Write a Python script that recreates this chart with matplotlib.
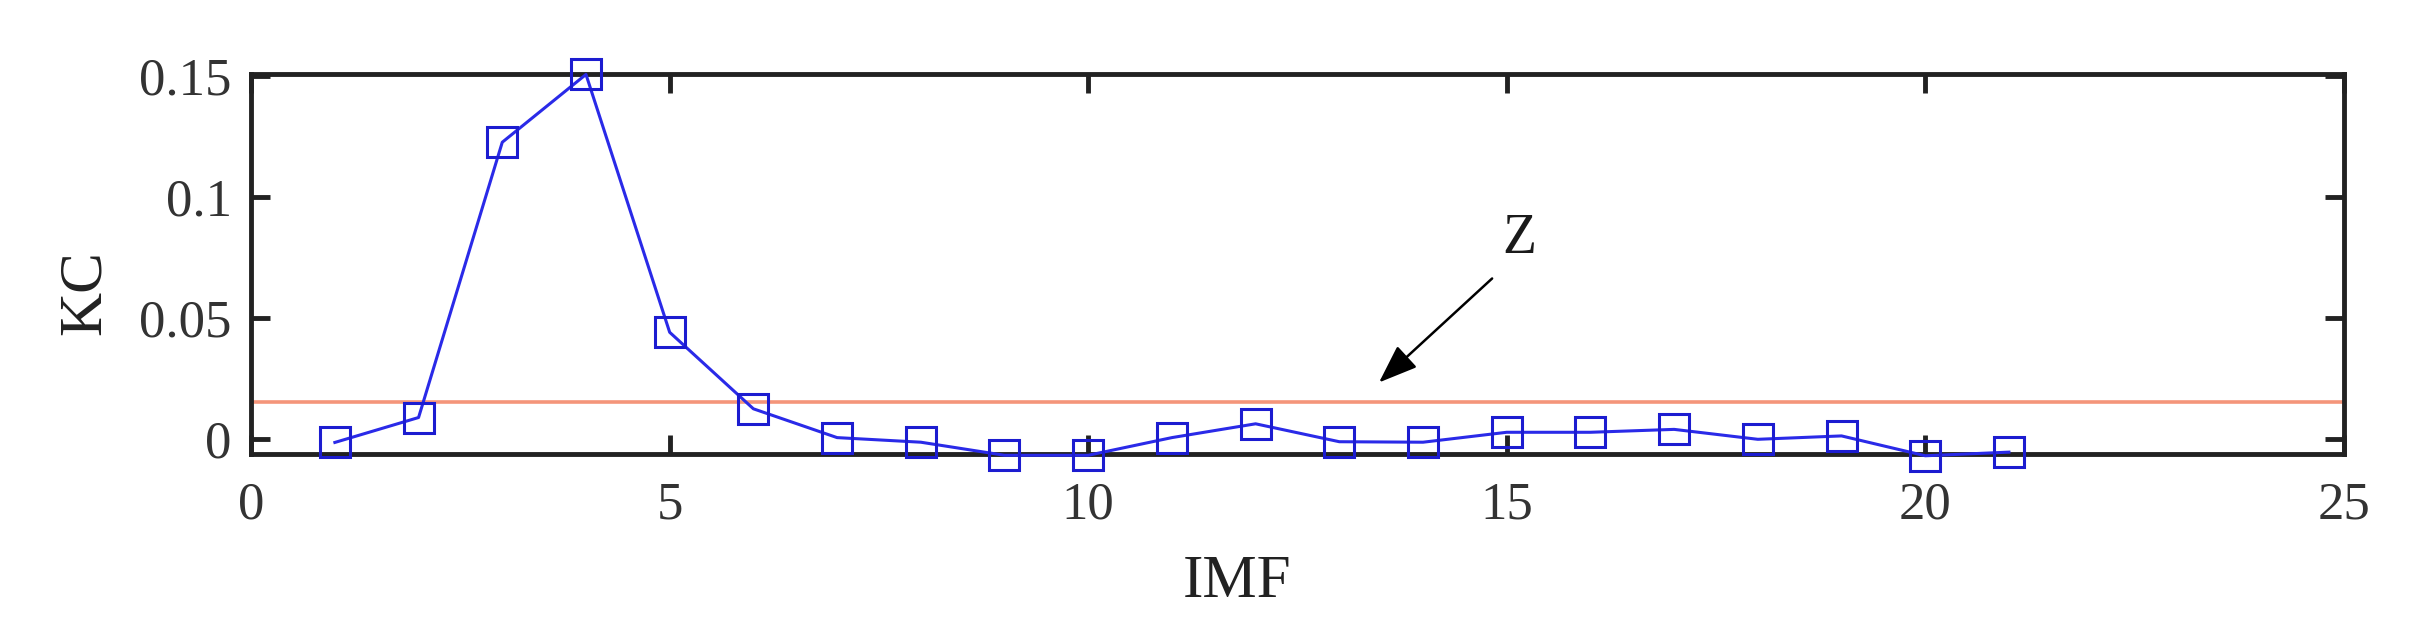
import numpy as np
import matplotlib
matplotlib.use("Agg")
import matplotlib.pyplot as plt

plt.rcParams['font.family'] = ['Liberation Serif', 'DejaVu Serif']

imf = [1, 2, 3, 4, 5, 6, 7, 8, 9, 10, 11, 12, 13, 14, 15, 16, 17, 18, 19, 20, 21]
kc = [-0.0015, 0.0088, 0.1225, 0.1505, 0.0440, 0.0124, 0.0005, -0.0014, -0.0068, -0.0068,
      0.0005, 0.0062, -0.0012, -0.0014, 0.0027, 0.0027, 0.0039, -0.0002, 0.0012, -0.0070, -0.0055]
threshold = 0.0153

fig = plt.figure(figsize=(24.15, 6.41), dpi=100)
ax = fig.add_axes([0.104, 0.292, 0.8665, 0.593])

ax.plot(imf, kc, color='#2a2ae8', lw=2.2, marker='s', markersize=22,
        markerfacecolor='none', markeredgecolor='#1c1cd0', markeredgewidth=2.2, clip_on=False, zorder=3)
ax.axhline(threshold, color='#f4957a', lw=2.6, zorder=2)

ax.annotate('', xy=(13.45, 0.0225), xytext=(14.85, 0.067),
            arrowprops=dict(arrowstyle='-|>,head_length=1.2,head_width=0.45', mutation_scale=20,
                            color='black', lw=1.8))
ax.text(15.15, 0.0824, 'Z', fontsize=40, ha='center', va='center', color='#1a1a1a')

ax.set_xlim(0, 25)
ax.set_ylim(-0.0062, 0.1508)
ax.set_xticks([0, 5, 10, 15, 20, 25])
ax.set_yticks([0, 0.05, 0.1, 0.15])
ax.set_yticklabels(['0', '0.05', '0.1', '0.15'])

for s in ax.spines.values():
    s.set_linewidth(3.5)
    s.set_color('#222222')
ax.tick_params(direction='in', length=14, width=3.5, labelsize=38, top=True, right=True,
               colors='#222222', labelcolor='#333333')
ax.tick_params(axis='x', pad=20)
ax.tick_params(axis='y', pad=14)

ax.set_xlabel('IMF', fontsize=44, color='#222222')
ax.set_ylabel('KC', fontsize=44, color='#222222')
ax.xaxis.set_label_coords(0.471, -0.265)
ax.yaxis.set_label_coords(-0.066, 0.425)

fig.savefig('out.png', dpi=100)
